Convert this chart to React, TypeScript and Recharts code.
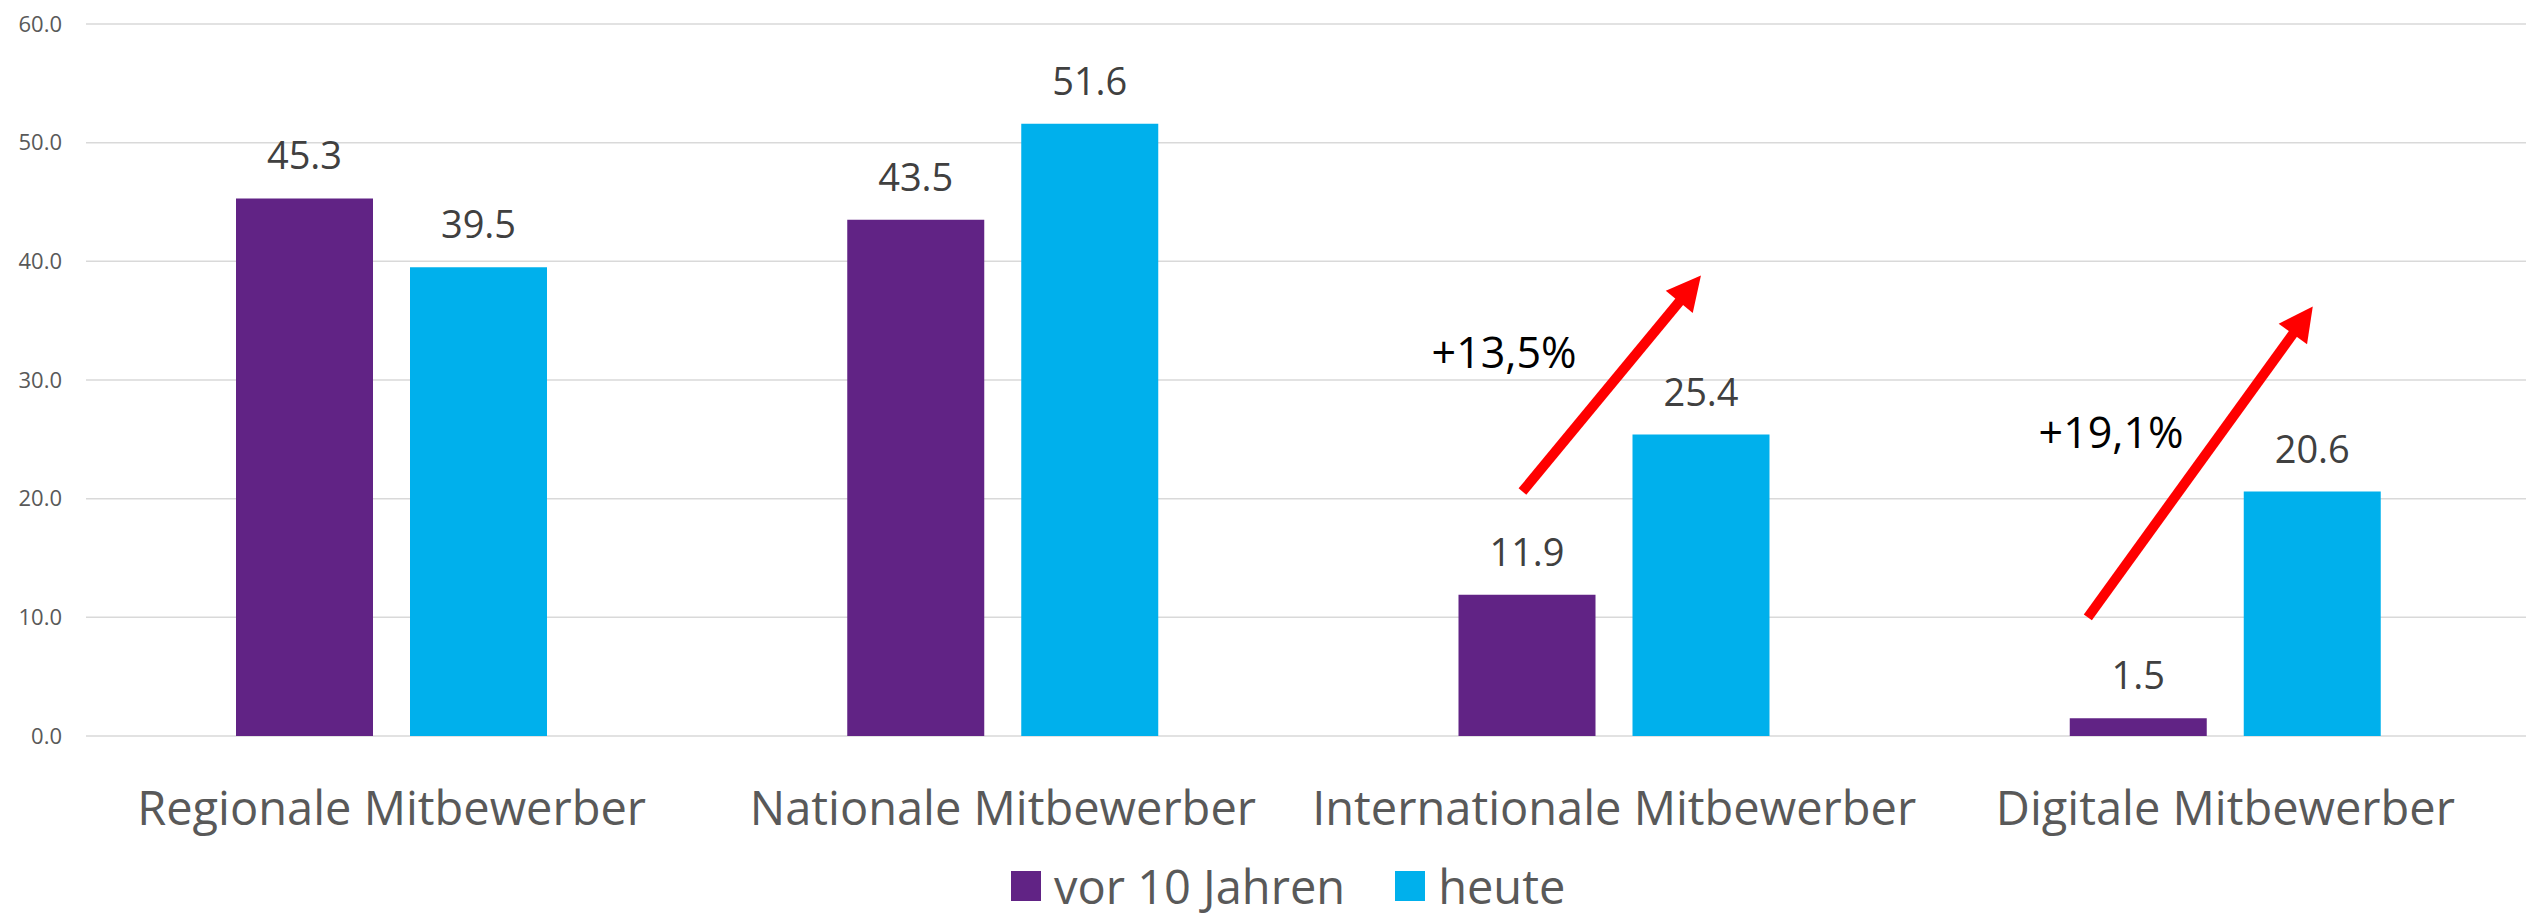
import {
  Bar,
  BarChart,
  CartesianGrid,
  LabelList,
  Legend,
  ReferenceDot,
  ReferenceLine,
  XAxis,
  YAxis
} from "recharts";

const categories = [
  "Regionale Mitbewerber",
  "Nationale Mitbewerber",
  "Internationale Mitbewerber",
  "Digitale Mitbewerber"
];
const vor10Jahren = [45.3, 43.5, 11.9, 1.5];
const heute = [39.5, 51.6, 25.4, 20.6];
const yTicks = [0, 10, 20, 30, 40, 50, 60];

// growth arrows, placed on a hidden numeric x axis where category i spans [i, i + 1]
const arrows = [
  { from: { x: 2.35, y: 20.6 }, to: { x: 2.642, y: 38.8 } },
  { from: { x: 3.275, y: 10.0 }, to: { x: 3.643, y: 36.2 } }
];
const growthLabels = [
  { x: 2.32, y: 31.0, text: "+13,5%" },
  { x: 3.313, y: 24.3, text: "+19,1%" }
];

const data = categories.map((name, i) => ({
  name,
  pos: i + 0.5,
  vor: vor10Jahren[i],
  heute: heute[i]
}));

const FONT = "'Open Sans', 'Noto Sans', sans-serif";
const PURPLE = "#612385";
const BLUE = "#00B0EC";

function ArrowShape(props: any) {
  const { x1, y1, x2, y2 } = props;
  const dx = x2 - x1;
  const dy = y2 - y1;
  const len = Math.sqrt(dx * dx + dy * dy) || 1;
  const ux = dx / len;
  const uy = dy / len;
  const headLen = 34;
  const half = 17.5;
  const bx = x2 - ux * headLen;
  const by = y2 - uy * headLen;
  const points = [
    `${x2},${y2}`,
    `${bx - uy * half},${by + ux * half}`,
    `${bx + uy * half},${by - ux * half}`
  ].join(" ");
  return (
    <g>
      <line x1={x1} y1={y1} x2={bx + ux * 2} y2={by + uy * 2} stroke="#FF0000" strokeWidth={10} />
      <polygon points={points} fill="#FF0000" />
    </g>
  );
}

function makeTextShape(text: string) {
  return (props: any) => (
    <text
      x={props.cx}
      y={props.cy}
      textAnchor="middle"
      fontFamily={FONT}
      fontSize={43}
      fill="#000000"
    >
      {text}
    </text>
  );
}

function LegendContent() {
  const items = [
    { label: "vor 10 Jahren", color: PURPLE },
    { label: "heute", color: BLUE }
  ];
  return (
    <div
      style={{
        display: "flex",
        alignItems: "center",
        height: 40,
        marginLeft: 1011,
        fontFamily: FONT,
        fontSize: 47,
        color: "#595959"
      }}
    >
      {items.map((item) => (
        <div key={item.label} style={{ display: "flex", alignItems: "center", marginRight: 50 }}>
          <span
            style={{
              display: "inline-block",
              width: 30,
              height: 30,
              background: item.color,
              marginRight: 13
            }}
          />
          <span style={{ lineHeight: "40px" }}>{item.label}</span>
        </div>
      ))}
    </div>
  );
}

export default function App() {
  return (
    <div
      style={{
        position: "fixed",
        left: 0,
        top: 0,
        width: 2526,
        height: 915,
        overflow: "hidden",
        background: "#ffffff"
      }}
    >
      <BarChart
        width={2540}
        height={915}
        data={data}
        margin={{ top: 24, right: 9, bottom: 69, left: 0 }}
        barGap={37}
      >
        <CartesianGrid vertical={false} stroke="#d9d9d9" strokeWidth={1.5} />
        <XAxis
          dataKey="name"
          axisLine={false}
          tickLine={false}
          tickSize={0}
          tickMargin={56}
          height={110}
          interval={0}
          tick={{ fontFamily: FONT, fontSize: 47, fill: "#595959" }}
        />
        <XAxis
          xAxisId="num"
          dataKey="pos"
          type="number"
          domain={[0, 4]}
          allowDataOverflow
          hide
        />
        <YAxis
          width={86}
          domain={[0, 60]}
          ticks={yTicks}
          axisLine={false}
          tickLine={false}
          tickSize={0}
          tickMargin={24}
          tickFormatter={(v: number) => v.toFixed(1)}
          tick={{ fontFamily: FONT, fontSize: 22, fill: "#595959" }}
        />
        <Legend
          layout="horizontal"
          verticalAlign="middle"
          align="center"
          wrapperStyle={{ top: 866, left: 0, width: 2526 }}
          content={() => <LegendContent />}
        />
        <Bar dataKey="vor" name="vor 10 Jahren" fill={PURPLE} barSize={137} isAnimationActive={false}>
          <LabelList
            dataKey="vor"
            position="top"
            offset={29}
            formatter={(v: any) => Number(v).toFixed(1)}
            style={{ fontFamily: FONT, fontSize: 38, fill: "#404040" }}
          />
        </Bar>
        <Bar dataKey="heute" name="heute" fill={BLUE} barSize={137} isAnimationActive={false}>
          <LabelList
            dataKey="heute"
            position="top"
            offset={29}
            formatter={(v: any) => Number(v).toFixed(1)}
            style={{ fontFamily: FONT, fontSize: 38, fill: "#404040" }}
          />
        </Bar>
        {arrows.map((a, i) => (
          <ReferenceLine
            key={`arrow-${i}`}
            xAxisId="num"
            segment={[a.from, a.to]}
            shape={ArrowShape}
            ifOverflow="visible"
          />
        ))}
        {growthLabels.map((g) => (
          <ReferenceDot
            key={g.text}
            xAxisId="num"
            x={g.x}
            y={g.y}
            r={0}
            ifOverflow="visible"
            shape={makeTextShape(g.text)}
          />
        ))}
      </BarChart>
    </div>
  );
}
